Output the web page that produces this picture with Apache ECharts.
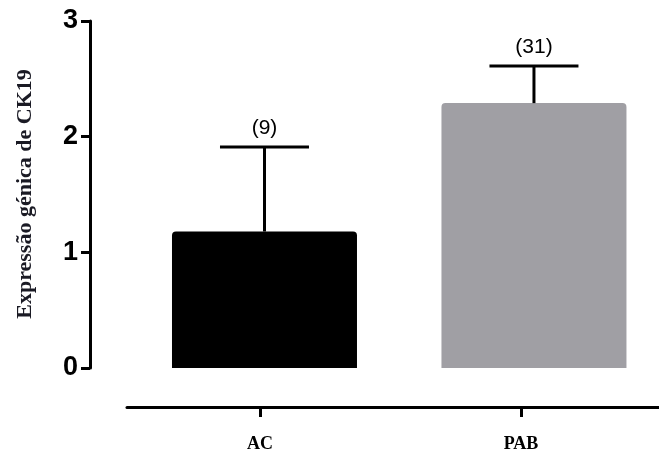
<!DOCTYPE html>
<html>
<head>
<meta charset="utf-8">
<script src="https://cdn.jsdelivr.net/npm/echarts@6/dist/echarts.min.js"></script>
<style>
  html, body { margin: 0; padding: 0; background: #fff; }
  #chart { width: 659px; height: 453px; }
</style>
</head>
<body>
<div id="chart"></div>
<script>
const categories = ['AC', 'PAB']
const means = [1.18, 2.29]
const errTop = [1.91, 2.61]
const nLabels = ['(9)', '(31)']
const barColors = ['#000000', '#a09fa4']
const yTicks = [0, 1, 2, 3]
const catIndex = categories.map((c, i) => i)

const chart = echarts.init(document.getElementById('chart'))

// categories sit at 0, 1 on value axes so bars and the detached bottom axis line up as in the figure
const option = {
  animation: false,
  grid: [
    { left: 90, right: 0, top: 21, height: 347 },
    { left: 127, right: 0, top: 21, height: 387 }
  ],
  xAxis: [
    {
      gridIndex: 0,
      type: 'value',
      min: -0.6475,
      max: 1.464,
      show: false
    },
    {
      gridIndex: 1,
      type: 'value',
      min: -0.5096,
      max: 1.5287,
      splitLine: { show: false },
      axisLine: { onZero: false, lineStyle: { color: '#000', width: 3 } },
      axisTick: { show: true, customValues: catIndex, length: 10, lineStyle: { color: '#000', width: 3 } },
      axisLabel: {
        customValues: catIndex,
        formatter: v => categories[v],
        margin: 28,
        color: '#000',
        fontFamily: 'Liberation Serif',
        fontWeight: 'bold',
        fontSize: 18
      }
    }
  ],
  yAxis: [
    {
      gridIndex: 0,
      type: 'value',
      min: yTicks[0],
      max: yTicks[yTicks.length - 1],
      interval: 1,
      axisLine: { show: true, onZero: false, lineStyle: { color: '#000', width: 3 } },
      axisTick: { show: true, length: 9, lineStyle: { color: '#000', width: 3 } },
      axisLabel: {
        margin: 12,
        color: '#000',
        fontFamily: 'Liberation Sans',
        fontWeight: 'bold',
        fontSize: 27
      },
      splitLine: { show: false }
    },
    {
      gridIndex: 1,
      type: 'value',
      show: false
    }
  ],
  graphic: [
    {
      type: 'text',
      x: 25,
      y: 194,
      rotation: Math.PI / 2,
      style: {
        text: 'Expressão génica de CK19',
        fill: '#1a1a24',
        font: 'bold 22px "Liberation Serif"',
        align: 'center',
        verticalAlign: 'middle'
      }
    }
  ],
  series: [
    {
      type: 'bar',
      xAxisIndex: 0,
      yAxisIndex: 0,
      barWidth: 185,
      data: means.map((v, i) => ({
        value: [i, v],
        itemStyle: { color: barColors[i], borderRadius: [4, 4, 0, 0] }
      }))
    },
    {
      type: 'custom',
      xAxisIndex: 0,
      yAxisIndex: 0,
      z: 3,
      data: means.map((v, i) => [i, v, errTop[i]]),
      renderItem: (params, api) => {
        const i = api.value(0)
        const base = api.coord([i, api.value(1)])
        const top = api.coord([i, api.value(2)])
        const half = 44.5
        const style = { stroke: '#000', lineWidth: 3 }
        return {
          type: 'group',
          children: [
            { type: 'line', shape: { x1: base[0], y1: base[1], x2: top[0], y2: top[1] }, style },
            { type: 'line', shape: { x1: top[0] - half, y1: top[1], x2: top[0] + half, y2: top[1] }, style },
            {
              type: 'text',
              x: top[0],
              y: top[1] - 19,
              style: {
                text: nLabels[i],
                fill: '#000',
                font: '21px "Liberation Sans"',
                align: 'center',
                verticalAlign: 'middle'
              }
            }
          ]
        }
      }
    }
  ]
}

chart.setOption(option)
</script>
</body>
</html>
